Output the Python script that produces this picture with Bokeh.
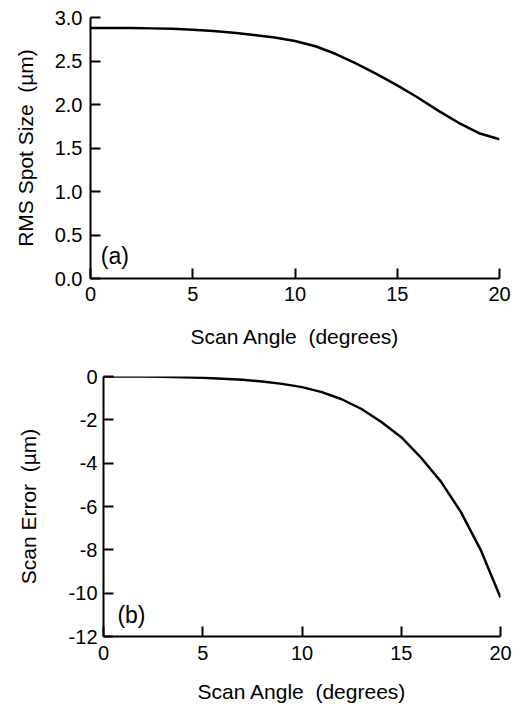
from bokeh.plotting import figure
from bokeh.models import Range1d, FixedTicker, Label
from bokeh.embed import file_html
from bokeh.resources import INLINE

# ---- data ----
angle = [0, 1, 2, 3, 4, 5, 6, 7, 8, 9, 10, 11, 12, 13, 14, 15, 16, 17, 18, 19, 20]
rms_spot = [2.88, 2.88, 2.88, 2.875, 2.87, 2.86, 2.845, 2.825, 2.80, 2.77, 2.73,
            2.67, 2.58, 2.47, 2.35, 2.22, 2.08, 1.93, 1.79, 1.67, 1.60]
scan_err = [0.0, 0.0, 0.0, -0.01, -0.03, -0.06, -0.10, -0.15, -0.23, -0.34, -0.49,
            -0.72, -1.05, -1.50, -2.10, -2.80, -3.75, -4.85, -6.25, -8.00, -10.2]

x_ticks = [0, 5, 10, 15, 20]
x_tick_labels = ["0", "5", "10", "15", "20"]
ya_ticks = [0.0, 0.5, 1.0, 1.5, 2.0, 2.5, 3.0]
ya_tick_labels = ["0.0", "0.5", "1.0", "1.5", "2.0", "2.5", "3.0"]
yb_ticks = [0, -2, -4, -6, -8, -10, -12]
yb_tick_labels = ["0", "-2", "-4", "-6", "-8", "-10", "-12"]

NB = "\u00a0"
x_label = "Scan Angle" + NB + NB + "(degrees)"
ya_label = "RMS Spot Size" + NB + NB + "(\u00b5m)"
yb_label = "Scan Error" + NB + NB + "(\u00b5m)"

FONT = "Liberation Sans"
TICK_FS = "20px"
LABEL_FS = "21px"


def style_axes(p, xstand, ystand, x_lab_stand, y_lab_stand):
    for ax in (p.xaxis[0], p.yaxis[0]):
        ax.axis_line_width = 2
        ax.axis_line_color = "black"
        ax.major_tick_line_width = 2
        ax.major_tick_line_color = "black"
        ax.major_tick_in = 10
        ax.major_tick_out = 0
        ax.minor_tick_line_color = None
        ax.major_label_text_font = FONT
        ax.major_label_text_font_size = TICK_FS
        ax.major_label_text_color = "black"
        ax.axis_label_text_font = FONT
        ax.axis_label_text_font_size = LABEL_FS
        ax.axis_label_text_font_style = "normal"
        ax.axis_label_text_color = "black"
    p.xaxis[0].major_label_standoff = xstand
    p.yaxis[0].major_label_standoff = ystand
    p.xaxis[0].axis_label_standoff = x_lab_stand
    p.yaxis[0].axis_label_standoff = y_lab_stand
    p.xgrid.grid_line_color = None
    p.ygrid.grid_line_color = None
    p.outline_line_color = None


# ---- panel (a) ----
pa = figure(width=523, height=358, output_backend="svg", toolbar_location=None,
            x_range=Range1d(0, 20), y_range=Range1d(0, 3.0),
            min_border_left=90, min_border_right=24, min_border_top=17, min_border_bottom=80)
pa.line(angle, rms_spot, line_width=2.5, line_color="black")
pa.xaxis[0].ticker = FixedTicker(ticks=x_ticks)
pa.xaxis[0].major_label_overrides = dict(zip(x_ticks, x_tick_labels))
pa.yaxis[0].ticker = FixedTicker(ticks=ya_ticks)
pa.yaxis[0].major_label_overrides = dict(zip(ya_ticks, ya_tick_labels))
pa.xaxis[0].axis_label = x_label
pa.yaxis[0].axis_label = ya_label
style_axes(pa, 8, 8, 21, 15)
pa.add_layout(Label(x=0.5, y=0.26, text="(a)", text_baseline="middle",
                    text_font=FONT, text_font_size="23px", text_color="black"))

# ---- panel (b) ----
pb = figure(width=523, height=350, output_backend="svg", toolbar_location=None,
            x_range=Range1d(0, 20), y_range=Range1d(-12, 0),
            min_border_left=103, min_border_right=23, min_border_top=18, min_border_bottom=72)
pb.line(angle, scan_err, line_width=2.5, line_color="black")
pb.xaxis[0].ticker = FixedTicker(ticks=x_ticks)
pb.xaxis[0].major_label_overrides = dict(zip(x_ticks, x_tick_labels))
pb.yaxis[0].ticker = FixedTicker(ticks=yb_ticks)
pb.yaxis[0].major_label_overrides = dict(zip(yb_ticks, yb_tick_labels))
pb.xaxis[0].axis_label = x_label
pb.yaxis[0].axis_label = yb_label
style_axes(pb, 9, 6, 17, 26)
pb.add_layout(Label(x=0.7, y=-11.03, text="(b)", text_baseline="middle",
                    text_font=FONT, text_font_size="23px", text_color="black"))

open("out.html", "w").write(file_html([pa, pb], INLINE))
